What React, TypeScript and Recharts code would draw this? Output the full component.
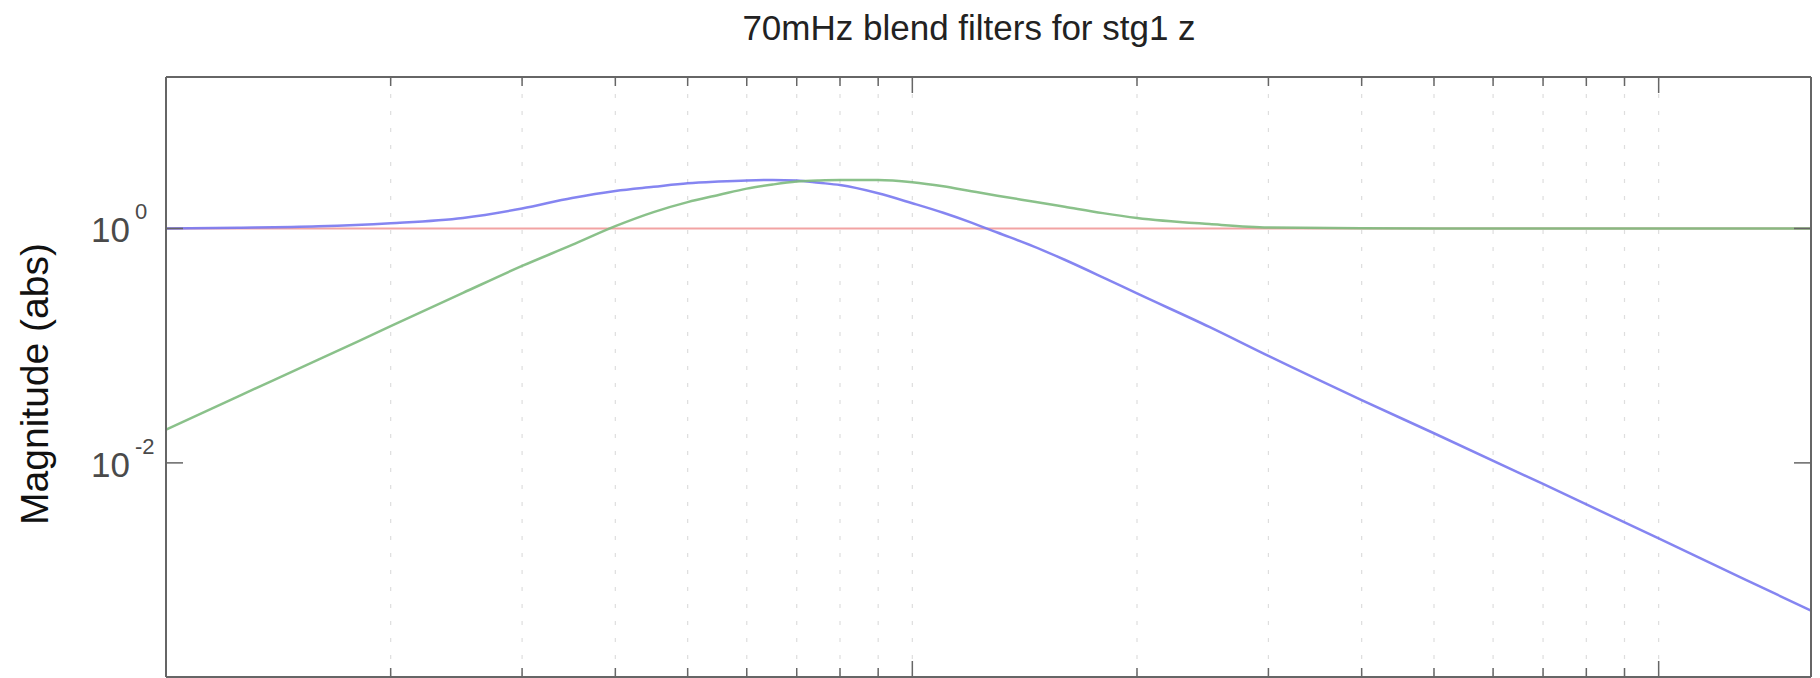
import React from "react";
import { CartesianGrid, Line, LineChart, XAxis, YAxis } from "recharts";

const freqs = [
  0.01, 0.0125, 0.016, 0.02, 0.025, 0.03, 0.035, 0.04, 0.045, 0.05, 0.055,
  0.06, 0.065, 0.07, 0.075, 0.08, 0.09, 0.1, 0.11, 0.12, 0.13, 0.145, 0.16,
  0.18, 0.2, 0.25, 0.3, 0.4, 0.5, 0.7, 1.0, 1.3, 1.6,
];

// blue: low-pass blend filter |H|
const lowPass = [
  1.0, 1.014, 1.042, 1.109, 1.23, 1.479, 1.82, 2.089, 2.265, 2.427, 2.512,
  2.57, 2.594, 2.57, 2.455, 2.344, 1.995, 1.641, 1.361, 1.122, 0.923, 0.708,
  0.541, 0.383, 0.279, 0.1445, 0.0817, 0.0343, 0.0179, 0.00661, 0.002265,
  0.001023, 0.00055,
];

// green: high-pass blend filter |H|
const highPass = [
  0.01923, 0.037, 0.0759, 0.1466, 0.282, 0.479, 0.724, 1.047, 1.38, 1.679,
  1.928, 2.188, 2.371, 2.512, 2.57, 2.594, 2.594, 2.483, 2.291, 2.08, 1.905,
  1.698, 1.531, 1.352, 1.23, 1.091, 1.019, 1.003, 1.0, 1.0, 1.0, 1.0, 1.0,
];

// red: sum of the two (flat at unity)
const unity = [
  1, 1, 1, 1, 1, 1, 1, 1, 1, 1, 1, 1, 1, 1, 1, 1, 1, 1, 1, 1, 1, 1, 1, 1, 1,
  1, 1, 1, 1, 1, 1, 1, 1,
];

const xTicks = [
  0.01, 0.02, 0.03, 0.04, 0.05, 0.06, 0.07, 0.08, 0.09, 0.1, 0.2, 0.3, 0.4,
  0.5, 0.6, 0.7, 0.8, 0.9, 1,
];
const yTicks = [0.01, 1];

const xDomain = [0.01, 1.6];
const yDomain = [0.000149, 19.6];

const data = freqs.map((f, i) => ({
  f,
  lp: lowPass[i],
  hp: highPass[i],
  sum: unity[i],
}));

const FONT = '"Liberation Sans", Arial, Helvetica, sans-serif';
const AXIS = "#666";

const isDecade = (v: number) =>
  Math.abs(Math.log10(v) - Math.round(Math.log10(v))) < 1e-6;

// ticks drawn inward, MATLAB style
const BottomTick = (props: any) => {
  const { x, y, payload } = props;
  const len = isDecade(payload.value) ? 16 : 9;
  return <line x1={x} x2={x} y1={y} y2={y - len} stroke={AXIS} strokeWidth={1.5} />;
};

const TopTick = (props: any) => {
  const { x, y, payload } = props;
  const len = isDecade(payload.value) ? 16 : 9;
  return <line x1={x} x2={x} y1={y} y2={y + len} stroke={AXIS} strokeWidth={1.5} />;
};

const LeftTick = (props: any) => {
  const { x, y, payload } = props;
  const exp = Math.round(Math.log10(payload.value));
  return (
    <g>
      <line x1={x} x2={x + 17} y1={y} y2={y} stroke={AXIS} strokeWidth={1.5} />
      <text x={x - 36} y={y + 14} textAnchor="end" fontSize={35} fontFamily={FONT} fill="#4a4a4a">
        10
      </text>
      <text x={x - 31} y={y - 9} fontSize={22} fontFamily={FONT} fill="#4a4a4a">
        {exp}
      </text>
    </g>
  );
};

const RightTick = (props: any) => {
  const { x, y } = props;
  return <line x1={x} x2={x - 17} y1={y} y2={y} stroke={AXIS} strokeWidth={1.5} />;
};

export default function App() {
  return (
    <div
      style={{
        position: "absolute",
        left: 0,
        top: 0,
        width: 1820,
        height: 678,
        background: "#fff",
        overflow: "hidden",
      }}
    >
      <LineChart
        width={1820}
        height={678}
        data={data}
        margin={{ top: 77, right: 9, bottom: 1, left: 165 }}
      >
        <CartesianGrid
          horizontal={false}
          stroke="#dedede"
          strokeDasharray="4 13"
          strokeWidth={1.2}
        />

        <XAxis
          dataKey="f"
          type="number"
          scale="log"
          domain={xDomain}
          allowDataOverflow
          ticks={xTicks}
          interval={0}
          height={1}
          mirror
          tickSize={0}
          tickMargin={0}
          tickLine={false}
          tick={(p: any) => <BottomTick {...p} />}
          axisLine={{ stroke: AXIS, strokeWidth: 2 }}
        />
        <XAxis
          xAxisId="top"
          orientation="top"
          dataKey="f"
          type="number"
          scale="log"
          domain={xDomain}
          allowDataOverflow
          ticks={xTicks}
          interval={0}
          height={1}
          mirror
          tickSize={0}
          tickMargin={0}
          tickLine={false}
          tick={(p: any) => <TopTick {...p} />}
          axisLine={{ stroke: AXIS, strokeWidth: 2 }}
        />
        <YAxis
          type="number"
          scale="log"
          domain={yDomain}
          allowDataOverflow
          ticks={yTicks}
          interval={0}
          width={1}
          tickSize={0}
          tickMargin={0}
          tickLine={false}
          tick={(p: any) => <LeftTick {...p} />}
          axisLine={{ stroke: AXIS, strokeWidth: 2 }}
        />
        <YAxis
          yAxisId="right"
          orientation="right"
          type="number"
          scale="log"
          domain={yDomain}
          allowDataOverflow
          ticks={yTicks}
          interval={0}
          width={1}
          mirror
          tickSize={0}
          tickMargin={0}
          tickLine={false}
          tick={(p: any) => <RightTick {...p} />}
          axisLine={{ stroke: AXIS, strokeWidth: 2 }}
        />

        <Line
          type="monotone"
          dataKey="sum"
          stroke="#f2a3a3"
          strokeWidth={2}
          dot={false}
          isAnimationActive={false}
        />
        <Line
          type="monotone"
          dataKey="lp"
          stroke="#7878f0"
          strokeOpacity={0.9}
          strokeWidth={2.5}
          dot={false}
          isAnimationActive={false}
        />
        <Line
          type="monotone"
          dataKey="hp"
          stroke="#7dba7d"
          strokeOpacity={0.9}
          strokeWidth={2.5}
          dot={false}
          isAnimationActive={false}
        />
      </LineChart>

      <svg
        width={1820}
        height={678}
        style={{ position: "absolute", left: 0, top: 0, pointerEvents: "none" }}
      >
        <text x={969} y={40} textAnchor="middle" fontSize={35} fontFamily={FONT} fill="#222">
          70mHz blend filters for stg1 z
        </text>
        <text
          transform="translate(48,384) rotate(-90)"
          textAnchor="middle"
          fontSize={39}
          fontFamily={FONT}
          fill="#111"
        >
          Magnitude (abs)
        </text>
      </svg>
    </div>
  );
}
